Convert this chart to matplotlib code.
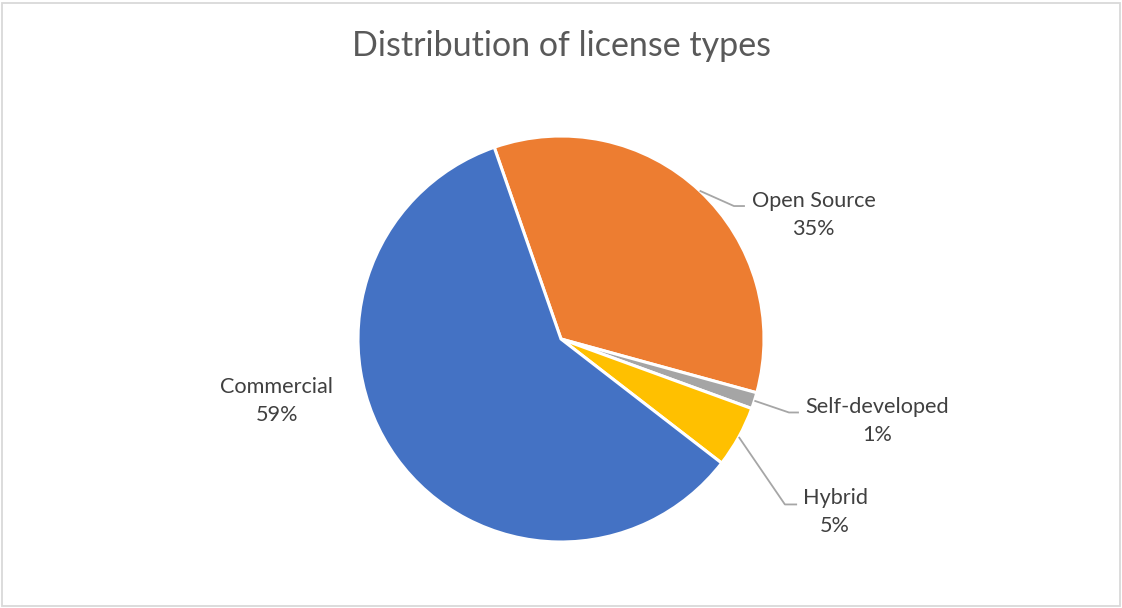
import numpy as np
import matplotlib.pyplot as plt
from matplotlib.patches import Rectangle

# data (percent shares)
categories = ["Open Source", "Self-developed", "Hybrid", "Commercial"]
shares = [34.6, 1.3, 4.9, 59.2]
colors = ["#ED7D31", "#A5A5A5", "#FFC000", "#4472C4"]

# label layout in pie-radius units: text centre, leader elbow, leader end (None = no leader)
label_pos = [(1.244, 0.613), (1.557, -0.406), (1.35, -0.852), (-1.401, -0.303)]
elbows = [(0.852, 0.655), (1.123, -0.362), (1.103, -0.815), None]
ends = [(0.906, 0.655), (1.172, -0.362), (1.163, -0.815), None]

W, H = 1122, 608
fig = plt.figure(figsize=(W / 100, H / 100), dpi=100)
plt.rcParams['font.family'] = ['Lato', 'DejaVu Sans']

# chart area border
fig.patches.append(Rectangle((1.5 / W, 2.5 / H), (W - 4) / W, (H - 5) / H, transform=fig.transFigure,
                             fill=False, edgecolor="#D9D9D9", linewidth=1.3))

cx, cy, r = 561, 339, 203
ax = fig.add_axes([(cx - r) / W, (H - cy - r) / H, 2 * r / W, 2 * r / H])
start = 109.2
wedges, _ = ax.pie(shares, colors=colors, startangle=start, counterclock=False, radius=1,
                   wedgeprops=dict(edgecolor="white", linewidth=2.2))
ax.set_xlim(-1, 1)
ax.set_ylim(-1, 1)
ax.set_aspect("equal")
ax.axis("off")

total = sum(shares)
cum = 0
for i, (name, v) in enumerate(zip(categories, shares)):
    mid = start - (cum + v / 2) / total * 360
    cum += v
    px, py = np.cos(np.radians(mid)), np.sin(np.radians(mid))
    if elbows[i] is not None:
        ax.plot([px, elbows[i][0], ends[i][0]], [py, elbows[i][1], ends[i][1]],
                color="#A6A6A6", linewidth=1.3, clip_on=False, solid_capstyle="butt")
    ax.text(label_pos[i][0], label_pos[i][1], f"{name}\n{v:.0f}%", ha="center", va="center",
            fontsize=15.6, color="#404040", linespacing=1.5, clip_on=False)

fig.text(562 / W, 1 - 46 / H, "Distribution of license types", ha="center", va="center",
         fontsize=24.5, color="#595959")

fig.savefig("out.png", dpi=100)
